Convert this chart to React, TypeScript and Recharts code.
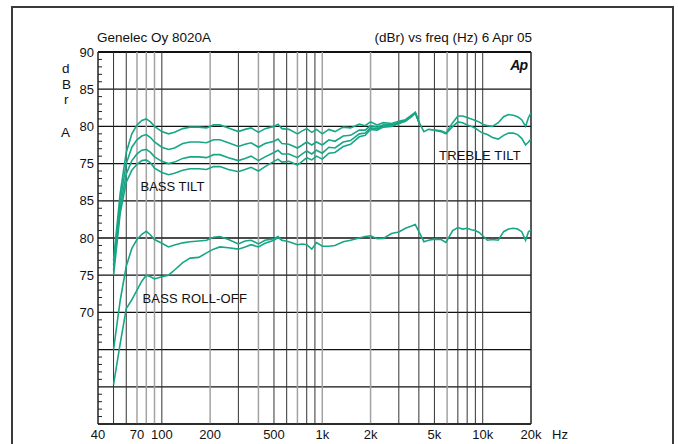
import { LineChart, Line, XAxis, YAxis, ReferenceLine } from 'recharts'

// frequency grid (Hz) shared by all curves
const freqs = [
  50, 55, 60, 65, 70, 75, 80, 85, 90, 100, 110, 120, 135, 150, 170, 190, 210, 230, 260, 300,
  330, 360, 400, 440, 500, 530, 560, 620, 700, 750, 800, 860, 920, 1000, 1100, 1200, 1350, 1500,
  1700, 1850, 2000, 2200, 2400, 2700, 3000, 3300, 3600, 3800, 4000, 4300, 4600, 5000, 5500, 5900,
  6500, 7000, 7500, 8000, 8500, 9000, 9500, 10000, 10700, 11500, 12500, 13500, 14500, 15500,
  16500, 17500, 18500, 19300, 20000,
]

// bass tilt, flat setting (runs the full band)
const bassTilt0 = [
  62.0, 71.0, 76.5, 79.0, 80.2, 80.8, 81.0, 80.6, 80.0, 79.3, 79.0, 79.2, 79.7, 79.9, 79.9, 79.8,
  80.2, 80.2, 79.8, 79.3, 79.6, 79.8, 79.2, 79.7, 80.0, 80.3, 79.7, 79.6, 79.0, 79.4, 79.7, 79.2,
  79.6, 79.0, 79.6, 79.3, 79.9, 79.8, 80.3, 80.1, 80.6, 80.2, 80.5, 80.4, 80.7, 80.9, 81.5, 81.9,
  80.6, 79.3, 79.6, 79.5, 79.4, 79.1, 80.5, 81.4, 81.4, 81.2, 81.0, 80.8, 80.6, 80.3, 80.1, 80.0,
  80.5, 81.3, 81.6, 81.5, 81.3, 80.9, 80.0, 81.2, 81.8,
]
// other bass tilt settings, they join the flat curve at 4 kHz
const bassTilt1 = [
  61.4, 70.0, 75.0, 77.2, 78.2, 78.7, 78.9, 78.5, 77.9, 77.2, 76.9, 77.1, 77.7, 77.9, 77.9, 77.8,
  78.2, 78.2, 77.8, 77.3, 77.6, 77.8, 77.2, 77.7, 78.0, 78.3, 77.7, 77.6, 77.1, 77.5, 77.9, 77.5,
  77.9, 77.5, 78.2, 78.0, 78.7, 78.8, 79.5, 79.5, 80.1, 79.9, 80.2, 80.2, 80.55, 80.8, 81.4, 81.85,
  80.6,
]
const bassTilt2 = [
  60.7, 69.0, 73.6, 75.4, 76.3, 76.8, 76.9, 76.5, 75.9, 75.3, 75.0, 75.2, 75.7, 75.9, 75.9, 75.8,
  76.2, 76.2, 75.8, 75.4, 75.7, 76.0, 75.4, 75.9, 76.5, 76.8, 76.3, 76.3, 75.8, 76.3, 76.7, 76.3,
  76.8, 76.4, 77.2, 77.1, 77.9, 78.1, 79.0, 79.1, 79.8, 79.7, 80.0, 80.1, 80.45, 80.75, 81.35, 81.8,
  80.6,
]
const bassTilt3 = [
  60.0, 68.3, 72.5, 74.1, 74.9, 75.4, 75.5, 75.1, 74.4, 73.8, 73.5, 73.7, 74.1, 74.3, 74.3, 74.2,
  74.6, 74.6, 74.2, 73.9, 74.2, 74.5, 74.0, 74.6, 75.3, 75.6, 75.2, 75.3, 74.8, 75.3, 75.8, 75.5,
  76.0, 75.6, 76.4, 76.5, 77.3, 77.6, 78.6, 78.8, 79.6, 79.5, 79.9, 80.0, 80.4, 80.7, 81.3, 81.8,
  80.6,
]

// treble tilt, from 5 kHz up
const trebleFreqs = [
  5000, 5500, 5900, 6500, 7000, 7500, 8000, 8500, 9000, 9500, 10000, 10700, 11500, 12500, 13500,
  14500, 15500, 16500, 17500, 18500, 19300, 20000,
]
const trebleTilt = [
  79.5, 79.3, 79.0, 80.0, 80.6, 80.5, 80.2, 80.0, 79.75, 79.4, 79.1, 78.9, 78.5, 78.3, 78.8, 79.1,
  79.1, 78.9, 78.4, 77.5, 77.9, 78.3,
]

// bass roll-off curves, in the lower scale's units (85/80/75/70)
const rollOffFlat = [
  65.0, 71.6, 76.2, 78.6, 79.8, 80.5, 80.9, 80.4, 79.8, 79.3, 78.8, 79.05, 79.35, 79.5, 79.6, 79.7,
  80.1, 80.2, 79.8, 79.2, 79.6, 79.7, 79.2, 79.7, 79.9, 80.2, 79.7, 79.5, 79.1, 79.2, 79.1, 78.5,
  79.4, 78.9, 78.9, 79.0, 79.5, 79.7, 80.0, 80.2, 80.3, 79.9, 79.95, 80.6, 80.8, 81.3, 81.6, 81.8,
  80.85, 79.5, 79.7, 79.85, 79.8, 79.4, 81.0, 81.4, 81.2, 81.3, 81.1, 81.0, 80.75, 80.3, 79.7, 79.8,
  79.7, 80.85, 81.2, 81.3, 81.2, 80.85, 79.7, 80.85, 81.1,
]
const rollOffLow = [
  60.3, 65.8, 70.5, 71.7, 73.0, 74.2, 75.0, 74.8, 74.5, 74.8, 75.0, 75.7, 76.7, 77.3, 77.4, 78.0,
  78.5, 78.8, 78.7, 78.5, 78.8, 79.1, 78.8, 79.3, 79.7, 80.1, 79.7,
]
const ROLL_OFF_SHIFT = 15

const yTicks = [40, 45, 50, 55, 60, 65, 70, 75, 80, 85, 90]
const yTickLabels = ['', '', '', '70', '75', '80', '85', '75', '80', '85', '90']
const yAllTicks = Array.from({ length: 51 }, (_, i) => 40 + i) // 1 dB minor ticks

const xTicks = [40, 70, 100, 200, 500, 1000, 2000, 5000, 10000, 20000]
const xTickLabels = ['40', '70', '100', '200', '500', '1k', '2k', '5k', '10k', '20k']

const darkGridFreqs = [50, 60, 100, 300, 500, 600, 800, 900, 3000, 4000, 5000, 7000, 8000, 9000, 10000]
const lightGridFreqs = [70, 80, 90, 200, 400, 700, 1000, 2000, 6000]

const TEAL = '#17a686'
const FONT = '"Liberation Sans", Arial, Helvetica, sans-serif'

const pts = (fs: number[], vs: number[], shift = 0) => vs.map((v, i) => ({ f: fs[i], v: v - shift }))

const curves = [
  pts(freqs, bassTilt3),
  pts(freqs, bassTilt2),
  pts(freqs, bassTilt1),
  pts(trebleFreqs, trebleTilt),
  pts(freqs, bassTilt0),
  pts(freqs, rollOffLow, ROLL_OFF_SHIFT),
  pts(freqs, rollOffFlat, ROLL_OFF_SHIFT),
]

// major ticks get a label, minor ones a short inward mark
function YTick({ x, y, payload }: any) {
  const i = yTicks.indexOf(payload.value)
  if (i >= 0) {
    return (
      <text x={x} y={y} dy="0.355em" textAnchor="end" fontSize={13} fill="#111" fontFamily={FONT}>
        {yTickLabels[i]}
      </text>
    )
  }
  return <line x1={x + 4} x2={x + 8} y1={y} y2={y} stroke="#222" strokeWidth={1} />
}

function Txt({ left, top, right, size = 13, children, style }: any) {
  return (
    <div
      style={{
        position: 'absolute',
        left,
        right,
        top,
        fontSize: size,
        lineHeight: 1,
        whiteSpace: 'nowrap',
        color: '#111',
        ...style,
      }}
    >
      {children}
    </div>
  )
}

export default function App() {
  return (
    <div
      style={{
        position: 'absolute',
        left: 0,
        top: 0,
        width: 678,
        height: 444,
        overflow: 'hidden',
        background: '#fff',
        fontFamily: FONT,
      }}
    >
      <div
        style={{
          position: 'absolute',
          left: 11,
          top: 6,
          width: 663,
          height: 480,
          border: '2px solid #3a3a3a',
          boxSizing: 'border-box',
        }}
      />
      <LineChart
        width={678}
        height={444}
        margin={{ top: 52, right: 147, bottom: 0, left: 58 }}
        style={{ position: 'absolute', left: 0, top: 0 }}
      >
        {yTicks.map((v) => (
          <ReferenceLine key={'h' + v} y={v} stroke="#111" strokeWidth={v === 90 ? 2 : 1.3} />
        ))}
        {lightGridFreqs.map((f) => (
          <ReferenceLine key={'l' + f} x={f} stroke="#a3a3a3" strokeWidth={1.5} />
        ))}
        {darkGridFreqs.map((f) => (
          <ReferenceLine key={'d' + f} x={f} stroke="#333" strokeWidth={1} />
        ))}
        <ReferenceLine x={20000} stroke="#222" strokeWidth={1.5} />
        <XAxis
          type="number"
          dataKey="f"
          scale="log"
          domain={[40, 20000]}
          ticks={xTicks}
          tickFormatter={(v: number) => xTickLabels[xTicks.indexOf(v)] ?? ''}
          tickLine={false}
          tickSize={0}
          tickMargin={6}
          height={20}
          axisLine={{ stroke: '#222', strokeWidth: 1.5 }}
          tick={{ fontSize: 13, fill: '#111', fontFamily: FONT }}
          allowDataOverflow
        />
        <YAxis
          type="number"
          domain={[40, 90]}
          ticks={yAllTicks}
          interval={0}
          tick={<YTick />}
          tickLine={false}
          tickSize={0}
          tickMargin={4}
          width={40}
          axisLine={{ stroke: '#222', strokeWidth: 1.5 }}
          allowDataOverflow
        />
        {curves.map((d, i) => (
          <Line
            key={i}
            data={d}
            dataKey="v"
            type="linear"
            stroke={TEAL}
            strokeWidth={1.6}
            dot={false}
            activeDot={false}
            isAnimationActive={false}
          />
        ))}
      </LineChart>

      <Txt left={97} top={31.3} size={13.5}>Genelec Oy 8020A</Txt>
      <Txt right={146} top={31.3} size={13.5}>(dBr) vs freq (Hz) 6 Apr 05</Txt>
      <Txt left={62} top={61.6} size={13.5}>d</Txt>
      <Txt left={62} top={77.6} size={13.5}>B</Txt>
      <Txt left={64} top={92.6} size={13.5}>r</Txt>
      <Txt left={61} top={125.6} size={13.5}>A</Txt>
      <Txt right={151} top={58} size={14} style={{ fontWeight: 'bold', fontStyle: 'italic', letterSpacing: -1 }}>
        Ap
      </Txt>
      <Txt left={140.5} top={180}>BASS TILT</Txt>
      <Txt left={142.5} top={291.7} style={{ letterSpacing: 0.15 }}>BASS ROLL-OFF</Txt>
      <Txt left={439} top={149} style={{ letterSpacing: 0.2 }}>TREBLE TILT</Txt>
      <Txt left={552} top={428}>Hz</Txt>
    </div>
  )
}
